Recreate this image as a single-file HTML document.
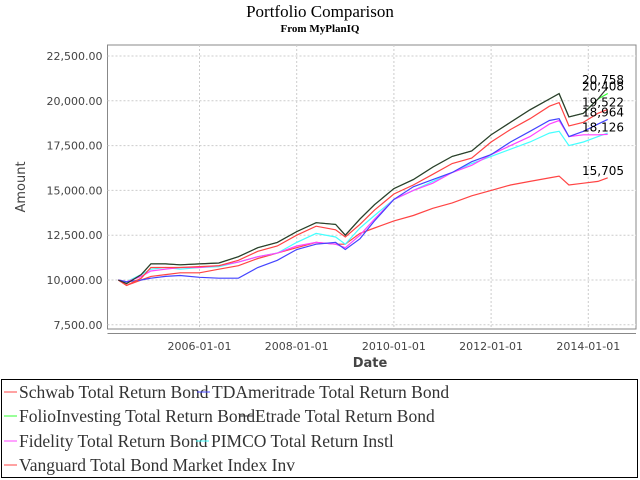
<!DOCTYPE html>
<html><head><meta charset="utf-8"><style>
body{margin:0;background:#fff;width:640px;height:480px;overflow:hidden}
svg{display:block}
</style></head><body>
<svg id="chart" width="640" height="480" xmlns="http://www.w3.org/2000/svg">
<rect width="640" height="480" fill="#fff"/>
<text x="320" y="17" text-anchor="middle" font-family="Liberation Serif, serif" font-size="17" fill="#000">Portfolio Comparison</text>
<text x="320" y="32" text-anchor="middle" font-family="Liberation Serif, serif" font-size="11" font-weight="bold" fill="#000">From MyPlanIQ</text>
<g id="grid"></g>
<g id="yaxis"></g>
<g id="xaxis"></g>
<g id="series"></g>
<g id="endlabels"></g>
<text transform="translate(25,187) rotate(-90)" text-anchor="middle" font-family="DejaVu Sans, sans-serif" font-size="13" fill="#444">Amount</text>
<text x="370" y="367" text-anchor="middle" font-family="DejaVu Sans, sans-serif" font-size="13" font-weight="bold" fill="#444">Date</text>
<rect x="1.5" y="379.5" width="636" height="98" fill="none" stroke="#000"/>
<g id="legend"></g>
</svg>
<script>
const times=[2004.33,2004.5,2004.8,2005.0,2005.3,2005.6,2006.0,2006.4,2006.8,2007.2,2007.6,2008.0,2008.4,2008.8,2009.0,2009.3,2009.6,2010.0,2010.4,2010.8,2011.2,2011.6,2012.0,2012.4,2012.8,2013.2,2013.4,2013.6,2013.9,2014.2,2014.4];
const etrade=[10000,9800,10300,10900,10900,10850,10900,10950,11300,11800,12100,12700,13200,13100,12500,13400,14200,15100,15600,16300,16900,17200,18100,18800,19500,20100,20400,19100,19300,20100,20758];
const folio=[10000,9800,10300,10900,10900,10850,10900,10950,11300,11800,12100,12700,13200,13100,12500,13400,14200,15100,15600,16300,16900,17200,18100,18800,19500,20100,20400,19100,19300,20100,20408];
const schwab=[10000,9700,10100,10700,10700,10700,10750,10800,11100,11600,11900,12500,13000,12800,12400,13100,13900,14800,15300,15900,16500,16800,17700,18400,19000,19700,19900,18600,18800,19300,19522];
const tda=[10000,9900,10000,10100,10200,10250,10150,10100,10100,10700,11100,11700,12000,12100,11700,12300,13300,14500,15200,15600,16000,16600,17000,17700,18300,18900,19000,18000,18300,18700,18964];
const fidelity=[10000,9900,10200,10500,10600,10700,10700,10800,11000,11300,11500,11900,12100,12000,11800,12500,13400,14500,15000,15400,16000,16400,17000,17500,18000,18700,18900,18000,18100,18100,18126];
const pimco=[10000,9900,10300,10600,10700,10600,10700,10750,11000,11300,11500,12100,12600,12400,12000,12900,13600,14500,15000,15500,16000,16500,16900,17300,17700,18200,18300,17500,17700,18000,18200];
const vanguard=[10000,9700,10000,10200,10300,10400,10400,10600,10800,11200,11500,11800,12100,12000,12000,12600,12900,13300,13600,14000,14300,14700,15000,15300,15500,15700,15800,15300,15400,15500,15705];
const yTicks=[7500,10000,12500,15000,17500,20000,22500];
const yTickLabels=["7,500.00","10,000.00","12,500.00","15,000.00","17,500.00","20,000.00","22,500.00"];
const xTicks=[2006,2008,2010,2012,2014];
const xTickLabels=["2006-01-01","2008-01-01","2010-01-01","2012-01-01","2014-01-01"];
const endLabels=["20,758","20,408","19,522","18,964","18,126","15,705"];
const legendNames=["Schwab Total Return Bond","TDAmeritrade Total Return Bond","FolioInvesting Total Return Bond","Etrade Total Return Bond","Fidelity Total Return Bond","PIMCO Total Return Instl","Vanguard Total Bond Market Index Inv"];

const NS="http://www.w3.org/2000/svg";
const L=107.5,R=636,T=45,B=329;
function X(t){return 199.5+(t-2006)*48.6;}
function Y(v){return 280-(v-10000)/2500*44.8;}
function mk(tag,attrs,parent){const e=document.createElementNS(NS,tag);for(const k in attrs)e.setAttribute(k,attrs[k]);parent.appendChild(e);return e;}
const grid=document.getElementById('grid'),ya=document.getElementById('yaxis'),xa=document.getElementById('xaxis');
mk('rect',{x:L,y:T,width:R-L,height:B-T,fill:'none',stroke:'#888','stroke-width':1},grid);
yTicks.forEach((v,i)=>{
  const y=Y(v);
  const g=mk('line',{x1:L,x2:R,y1:y,y2:y,stroke:'#ccc','stroke-dasharray':'2,2'},grid);
  
  
  const t=mk('text',{x:L-5,y:y+4,'text-anchor':'end','font-family':'DejaVu Sans, sans-serif','font-size':'11',fill:'#444'},ya);
  
  
  t.textContent=yTickLabels[i];
});
mk('line',{x1:L,x2:R,y1:333.5,y2:333.5,stroke:'#888'},xa);
xTicks.forEach((v,i)=>{
  const x=X(v);
  const g=mk('line',{x1:x,x2:x,y1:T,y2:B,stroke:'#ccc','stroke-dasharray':'2,2'},grid);
  
  
  const t=mk('text',{x:x,y:350,'text-anchor':'middle','font-family':'DejaVu Sans, sans-serif','font-size':'11',fill:'#444'},xa);
  
  
  t.textContent=xTickLabels[i];
});
const sg=document.getElementById('series');
const list=[[folio,'#33ff33','folio-line'],[vanguard,'#ff4444','vanguard-line'],[pimco,'#44ffff','pimco-line'],[fidelity,'#ff44ff','fidelity-line'],[tda,'#4444ff','tdameritrade-line'],[schwab,'#ff4444','schwab-line'],[etrade,'#333333','etrade-line']];
list.forEach(([d,c,n])=>{
  const p=mk('polyline',{points:d.map((v,i)=>X(times[i]).toFixed(1)+','+Y(v).toFixed(1)).join(' '),fill:'none',stroke:c,'stroke-width':1.2},sg);
  
  
});
const el=document.getElementById('endlabels');
const endVals=[etrade,folio,schwab,tda,fidelity,vanguard].map(a=>a[a.length-1]);
endVals.forEach((v,i)=>{
  const t=mk('text',{x:582,y:Y(v)-3,'font-family':'DejaVu Sans, sans-serif','font-size':'12',fill:'#000'},el);
  
  
  t.textContent=endLabels[i];
});
const lg=document.getElementById('legend');
const legCols=['#ff4444','#4444ff','#33ff33','#333333','#ff44ff','#44ffff','#ff4444'];
const legPos=[[4,392],[197,392],[4,416],[240,416],[4,441],[196,441],[4,465]];
legendNames.forEach((n,i)=>{
  const [x,y]=legPos[i];
  const g=mk('g',{},lg);
  
  
  mk('line',{x1:x,x2:x+13,y1:y,y2:y,stroke:legCols[i],'stroke-width':1},g);
  const t=mk('text',{x:x+15,y:y+6,'font-family':'Liberation Serif, serif','font-size':'17.5',fill:'#333'},g);
  t.textContent=n;
});
</script>
</body></html>
